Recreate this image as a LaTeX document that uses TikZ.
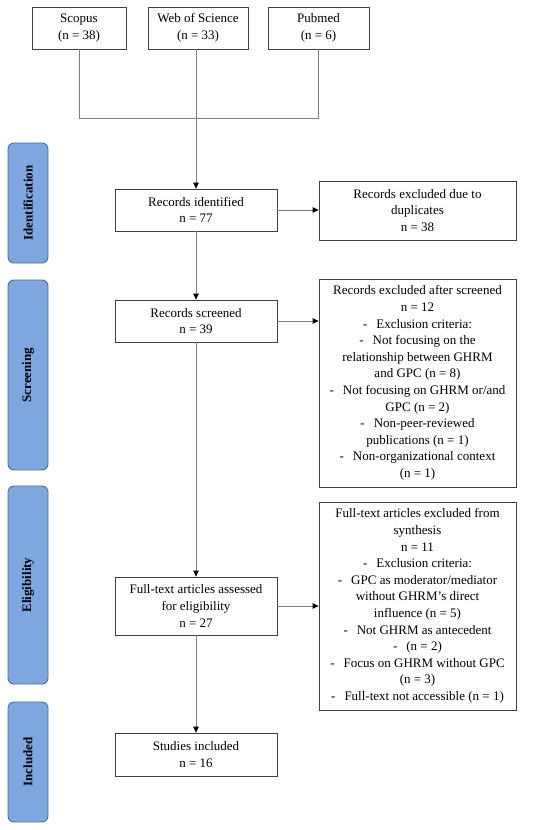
\documentclass[tikz,border=0pt]{standalone}
\usepackage{fontspec}
\setmainfont{Liberation Serif}
\usetikzlibrary{arrows.meta}
\definecolor{boxline}{HTML}{404040}
\definecolor{conn}{HTML}{808080}
\definecolor{phasefill}{HTML}{7FA7DF}
\definecolor{phaseline}{HTML}{41719C}
\tikzset{
  box/.style={draw=boxline, line width=0.8pt, rectangle, align=center, inner sep=0pt,
    font=\fontsize{13}{16.6}\selectfont},
  phase/.style={draw=phaseline, fill=phasefill, line width=0.9pt, rounded corners=6pt,
    minimum height=40pt, rotate=90, inner sep=0pt,
    font=\fontsize{13}{14}\selectfont\bfseries},
  conline/.style={draw=conn, line width=0.8pt},
  arr/.style={conline, -{Triangle[length=6pt,width=5.5pt,black]}}
}
\newcommand{\dsh}{-\hspace{9pt}}
\begin{document}
\begin{tikzpicture}[x=1pt,y=-1pt]
\useasboundingbox (0,0) rectangle (550,830);
% sources
\node[box, minimum width=94pt, minimum height=42pt] (scopus) at (79,28) {Scopus\\(n = 38)};
\node[box, minimum width=100pt, minimum height=42pt] (wos) at (198,28) {Web of Science\\(n = 33)};
\node[box, minimum width=101pt, minimum height=42pt] (pubmed) at (318.5,28) {Pubmed\\(n = 6)};
\coordinate (join) at (196,118);
% main column
\node[box, minimum width=162pt, minimum height=42pt] (ri) at (196,210) {Records identified\\n = 77};
\node[box, minimum width=162pt, minimum height=42pt] (rs) at (196,321) {Records screened\\n = 39};
\node[box, minimum width=162pt, minimum height=58pt] (ft) at (196,606) {Full-text articles assessed\\for eligibility\\n = 27};
\node[box, minimum width=162pt, minimum height=43pt] (si) at (196,754.5) {Studies included\\n = 16};
% exclusion boxes
\node[box, minimum width=197pt, minimum height=59pt] (dup) at (417.5,210.5) {Records excluded due to\\duplicates\\n = 38};
\node[box, minimum width=197pt, minimum height=208pt] (ex2) at (417.5,383) {Records excluded after screened\\n = 12\\
\dsh Exclusion criteria:\\
\dsh Not focusing on the\\
relationship between GHRM\\
and GPC (n = 8)\\
\dsh Not focusing on GHRM or/and\\
GPC (n = 2)\\
\dsh Non-peer-reviewed\\
publications (n = 1)\\
\dsh Non-organizational context\\
(n = 1)};
\node[box, minimum width=197pt, minimum height=208pt] (ex3) at (417.5,606) {Full-text articles excluded from\\synthesis\\n = 11\\
\dsh Exclusion criteria:\\
\dsh GPC as moderator/mediator\\
without GHRM’s direct\\
influence (n = 5)\\
\dsh Not GHRM as antecedent\\
\dsh (n = 2)\\
\dsh Focus on GHRM without GPC\\
(n = 3)\\
\dsh Full-text not accessible (n = 1)};
% phases
\node[phase, minimum width=120pt] (p1) at (28,203) {Identification};
\node[phase, minimum width=190pt] (p2) at (28,375) {Screening};
\node[phase, minimum width=198pt] (p3) at (28,585) {Eligibility};
\node[phase, minimum width=120pt] (p4) at (28,762) {Included};
% connectors
\draw[conline] (scopus.south) |- (join);
\draw[conline] (pubmed.south) |- (join);
\draw[arr] (join |- wos.south) -- (ri.north);
\draw[arr] (ri.east) -- (ri.east -| dup.west);
\draw[arr] (ri.south) -- (rs.north);
\draw[arr] (rs.east) -- (rs.east -| ex2.west);
\draw[arr] (rs.south) -- (ft.north);
\draw[arr] (ft.east) -- (ft.east -| ex3.west);
\draw[arr] (ft.south) -- (si.north);
\end{tikzpicture}
\end{document}
